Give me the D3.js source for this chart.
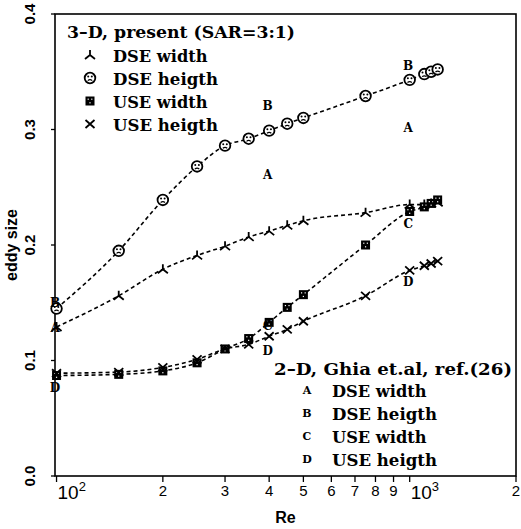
<!DOCTYPE html>
<html><head><meta charset="utf-8">
<script src="https://cdn.jsdelivr.net/npm/d3@7"></script>
<style>html,body{margin:0;padding:0;background:#fff;} svg{display:block;}</style>
</head><body>
<script>
// ---- data ----
const re3D = [100,150,200,250,300,350,400,450,500,750,1000,1100,1150,1200];
const dseWidth  = [0.129,0.156,0.179,0.191,0.199,0.207,0.212,0.217,0.221,0.228,0.235,0.235,0.236,0.237];
const dseHeight = [0.145,0.195,0.239,0.268,0.286,0.292,0.299,0.305,0.310,0.329,0.343,0.348,0.350,0.352];
const useWidth  = [0.087,0.088,0.091,0.098,0.110,0.119,0.133,0.146,0.157,0.200,0.229,0.233,0.236,0.239];
const useHeight = [0.089,0.090,0.094,0.101,0.110,0.114,0.121,0.127,0.134,0.156,0.178,0.182,0.184,0.186];

const reGhia = [100,400,1000];
const ghiaA = [0.129,0.261,0.302];
const ghiaB = [0.150,0.321,0.355];
const ghiaC = [null,0.130,0.219];
const ghiaD = [0.077,0.109,0.168];

const xTickValues = [100,200,300,400,500,600,700,800,900,1000,2000];
const xTickLabels = ["10","2","3","4","5","6","7","8","9","10","2"];
const xTickSup    = ["2","","","","","","","","","3",""];
const yTickValues = [0,0.1,0.2,0.3,0.4];
const yTickLabels = ["0.0","0.1","0.2","0.3","0.4"];

const legend3DTitle = "3\u2013D, present (SAR=3:1)";
const legend3DItems = ["DSE width","DSE heigth","USE width","USE heigth"];
const legend2DTitle = "2\u2013D, Ghia et.al, ref.(26)";
const legend2DLetters = ["A","B","C","D"];
const legend2DItems = ["DSE width","DSE heigth","USE width","USE heigth"];

// ---- layout ----
const W = 521, H = 529;
const L = 55, R = 516, T = 14, B = 476;
const x = d3.scaleLog().domain([99,2000]).range([L,R]);
const y = d3.scaleLinear().domain([0,0.4]).range([B,T]);

const svg = d3.select("body").append("svg").attr("width",W).attr("height",H);
const serif = "'DejaVu Serif', serif";
const sans = "'Liberation Sans', Arial, sans-serif";

// frame
svg.append("rect").attr("x",L).attr("y",T).attr("width",R-L).attr("height",B-T)
  .attr("fill","none").attr("stroke","#000").attr("stroke-width",1.6);

// x ticks
const xt = svg.append("g");
xTickValues.forEach((v,i)=>{
  const px = x(v);
  xt.append("line").attr("x1",px).attr("x2",px).attr("y1",B).attr("y2",B+6)
    .attr("stroke","#000").attr("stroke-width",1.3);
  const big = xTickSup[i] !== "";
  const t = xt.append("text").attr("font-family",sans).attr("fill","#000");
  if (big) {
    t.attr("x",px+1).attr("y",B+23).attr("font-size",19).attr("text-anchor","start");
    t.append("tspan").text(xTickLabels[i]);
    t.append("tspan").attr("font-size",13).attr("dy",-8).text(xTickSup[i]);
  } else {
    t.attr("x",px).attr("y",B+20).attr("font-size",15).attr("text-anchor","middle").text(xTickLabels[i]);
  }
});

// y ticks
yTickValues.forEach((v,i)=>{
  const py = y(v);
  svg.append("line").attr("x1",L-4).attr("x2",L).attr("y1",py).attr("y2",py)
    .attr("stroke","#000").attr("stroke-width",1.3);
  svg.append("text").attr("transform",`translate(35,${py}) rotate(-90)`)
    .attr("text-anchor","middle").attr("font-family",sans).attr("font-weight","bold")
    .attr("font-size",15).text(yTickLabels[i]);
});

// axis titles
svg.append("text").attr("x",(L+R)/2).attr("y",523).attr("text-anchor","middle")
  .attr("font-family",sans).attr("font-weight","bold").attr("font-size",16).text("Re");
svg.append("text").attr("transform",`translate(17,245) rotate(-90)`)
  .attr("text-anchor","middle").attr("font-family",sans).attr("font-weight","bold")
  .attr("font-size",16).text("eddy size");

// lines
const line = d3.line().x(d=>x(d[0])).y(d=>y(d[1])).curve(d3.curveMonotoneX);
const seriesList = [dseWidth, dseHeight, useWidth, useHeight];
const types = ["lambda","circle","square","cross"];
seriesList.forEach(s=>{
  svg.append("path").attr("d",line(re3D.map((r,i)=>[r,s[i]])))
    .attr("fill","none").attr("stroke","#000").attr("stroke-width",1.6)
    .attr("stroke-dasharray","4,3");
});

// markers
function marker(g, type, cx, cy){
  const m = g.append("g").attr("transform",`translate(${cx},${cy})`);
  if (type==="lambda"){
    m.append("path").attr("d","M0,-5L0,0M0,0L-5,4M0,0L5,4")
      .attr("stroke","#000").attr("stroke-width",1.8).attr("fill","none");
  } else if (type==="circle"){
    m.append("circle").attr("r",5.3).attr("fill","#fff").attr("stroke","#000").attr("stroke-width",1.8);
    m.append("circle").attr("cx",-1.8).attr("cy",-1.5).attr("r",1).attr("fill","#000");
    m.append("circle").attr("cx",1.8).attr("cy",-1.5).attr("r",1).attr("fill","#000");
    m.append("path").attr("d","M-2.2,2.6Q0,0.8 2.2,2.6").attr("stroke","#000").attr("fill","none").attr("stroke-width",1.2);
  } else if (type==="square"){
    m.append("rect").attr("x",-4.5).attr("y",-4.5).attr("width",9).attr("height",9).attr("fill","#000");
    [[-1.8,-1.8],[1.8,-1.8],[0,1.8]].forEach(p=>m.append("rect").attr("x",p[0]-0.6).attr("y",p[1]-0.6)
      .attr("width",1.2).attr("height",1.2).attr("fill","#fff"));
  } else if (type==="cross"){
    m.append("path").attr("d","M-4.5,-4L4.5,4M-4.5,4L4.5,-4")
      .attr("stroke","#000").attr("stroke-width",1.8);
  }
}
const mk = svg.append("g");
seriesList.forEach((s,k)=>{
  re3D.forEach((r,i)=>marker(mk, types[k], x(r), y(s[i])));
});

// Ghia letters
const ghiaList = [ghiaA, ghiaB, ghiaC, ghiaD];
ghiaList.forEach((s,k)=>{
  reGhia.forEach((r,i)=>{
    if (s[i] == null) return;
    svg.append("text").attr("x",x(r)-1.5).attr("y",y(s[i])+4.5).attr("text-anchor","middle")
      .attr("font-family",serif).attr("font-weight","bold").attr("font-size",12)
      .text(legend2DLetters[k]);
  });
});

// legend 3D
svg.append("text").attr("x",67).attr("y",38).attr("font-family",serif).attr("font-weight","bold").attr("font-size",17)
  .attr("textLength",228).attr("lengthAdjust","spacingAndGlyphs").text(legend3DTitle);
legend3DItems.forEach((t,i)=>{
  const cy = 55 + i*23;
  marker(svg, types[i], 90, cy);
  svg.append("text").attr("x",113).attr("y",cy+6.5).attr("font-family",serif).attr("font-weight","bold").attr("font-size",17)
    .attr("textLength", t.length*10.5).attr("lengthAdjust","spacingAndGlyphs").text(t);
});

// legend 2D
svg.append("text").attr("x",274).attr("y",375).attr("font-family",serif).attr("font-weight","bold").attr("font-size",17)
  .attr("textLength",238).attr("lengthAdjust","spacingAndGlyphs").text(legend2DTitle);
legend2DItems.forEach((t,i)=>{
  const cy = 390 + i*23;
  svg.append("text").attr("x",307).attr("y",cy+4).attr("text-anchor","middle")
    .attr("font-family",serif).attr("font-weight","bold").attr("font-size",11).text(legend2DLetters[i]);
  svg.append("text").attr("x",332).attr("y",cy+6.5).attr("font-family",serif).attr("font-weight","bold").attr("font-size",17)
    .attr("textLength", t.length*10.5).attr("lengthAdjust","spacingAndGlyphs").text(t);
});
</script>
</body></html>
